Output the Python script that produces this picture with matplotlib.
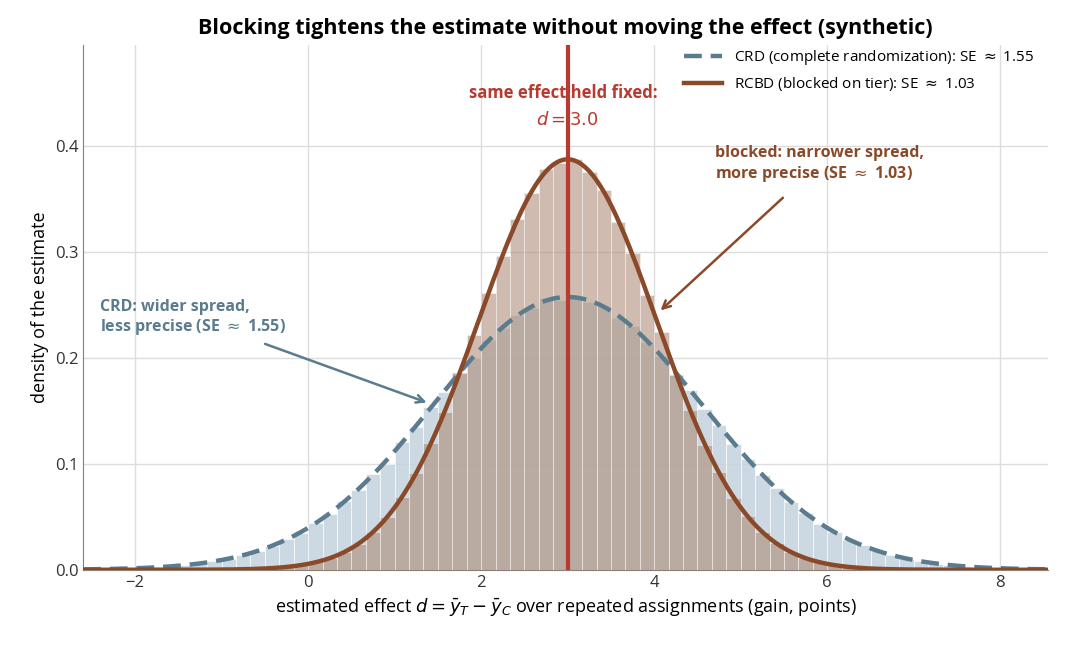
import numpy as np
import matplotlib
matplotlib.use("Agg")
import matplotlib.pyplot as plt

plt.rcParams['font.family'] = ['Open Sans', 'DejaVu Sans']

effect = 3.0
se_crd = 1.55
se_rcbd = 1.03
bin_left = -2.5
bin_width = 1/6
# histogram heights (density), 66 bins from -2.5 to 8.5
crd_hist = [0.0006,0.0008,0.0012,0.0018,0.0022,0.0033,0.0043,0.0061,0.0079,0.0106,0.0136,0.0180,0.0225,0.0290,0.0350,0.0440,0.0528,0.0645,0.0755,0.0900,0.1000,0.1210,0.1350,0.1540,0.1680,0.1870,0.2000,0.2170,0.2280,0.2400,0.2470,0.2560,0.2550,
            0.2580,0.2530,0.2490,0.2380,0.2300,0.2150,0.2020,0.1850,0.1700,0.1520,0.1370,0.1190,0.1050,0.0890,0.0770,0.0635,0.0535,0.0430,0.0360,0.0280,0.0230,0.0175,0.0140,0.0103,0.0081,0.0059,0.0045,0.0031,0.0024,0.0016,0.0012,0.0008,0.0006]
rcbd_hist = [0,0,0,0,0,0,0,0,0,0,0,0,0.0002,
             0.0028,0.0043,0.0072,0.0107,0.0169,0.0244,0.0360,0.0498,0.0690,0.0910,0.1200,0.1490,0.1860,0.2220,0.2610,0.2960,0.3310,0.3560,0.3780,0.3840,
             0.3880,0.3750,0.3580,0.3280,0.2990,0.2590,0.2240,0.1840,0.1510,0.1180,0.0920,0.0680,0.0505,0.0355,0.0248,0.0165,0.0110,0.0069,0.0045,0.0026,
             0.0002,0,0,0,0,0,0,0,0,0,0,0,0]

crd_c = '#5b7b8e'
rcbd_c = '#8a4a2a'
red = '#b83a30'

fig, ax = plt.subplots(figsize=(10.66, 6.46), dpi=100)
fig.subplots_adjust(left=0.078, right=0.983, top=0.93, bottom=0.118)
edges = bin_left + bin_width*np.arange(len(crd_hist))
ax.bar(edges, crd_hist, width=bin_width, align='edge', color='#c5d3dd', alpha=0.85, edgecolor='white', linewidth=0.5, zorder=2)
ax.bar(edges, rcbd_hist, width=bin_width, align='edge', color='#a9846e', alpha=0.55, edgecolor='white', linewidth=0.5, zorder=3)

x = np.linspace(-2.6, 8.6, 600)
pdf = lambda s: np.exp(-(x-effect)**2/(2*s*s))/(s*np.sqrt(2*np.pi))
ax.plot(x, pdf(se_crd), '--', color=crd_c, lw=3.2, dashes=(4, 2), zorder=4,
        label=f'CRD (complete randomization): SE $\\approx$ {se_crd:.2f}')
ax.plot(x, pdf(se_rcbd), '-', color=rcbd_c, lw=3.2, zorder=5,
        label=f'RCBD (blocked on tier): SE $\\approx$ {se_rcbd:.2f}')
ax.axvline(effect, color=red, lw=3, zorder=6)

ax.set_xlim(-2.6, 8.55)
ax.set_ylim(0, 0.495)
ax.set_xticks([-2, 0, 2, 4, 6, 8])
ax.set_yticks([0, 0.1, 0.2, 0.3, 0.4])
ax.grid(True, color='#dddddd', lw=1, zorder=0)
ax.set_axisbelow(True)
for s in ['top', 'right']:
    ax.spines[s].set_visible(False)
for s in ['left', 'bottom']:
    ax.spines[s].set_color('#8a7f73')
ax.tick_params(labelsize=12, length=0, colors='#333333')
ax.set_xlabel(r'estimated effect $d = \bar{y}_T - \bar{y}_C$ over repeated assignments (gain, points)', fontsize=13)
ax.set_ylabel('density of the estimate', fontsize=13)
ax.set_title('Blocking tightens the estimate without moving the effect (synthetic)', fontsize=15.5, fontweight='bold', pad=8)

ax.text(2.95, 0.445, 'same effect held fixed:', color=red, fontsize=12, fontweight='bold', ha='center', zorder=7)
ax.text(3.0, 0.42, r'$d = 3.0$', color=red, fontsize=13, ha='center', zorder=7)
ax.annotate('blocked: narrower spread,\nmore precise (SE $\\approx$ 1.03)', xy=(4.05, 0.243), xytext=(4.7, 0.37),
            color=rcbd_c, fontsize=11.5, fontweight='bold', ha='left',
            arrowprops=dict(arrowstyle='->', color=rcbd_c, lw=1.8, shrinkA=12, mutation_scale=14))
ax.annotate('CRD: wider spread,\nless precise (SE $\\approx$ 1.55)', xy=(1.4, 0.157), xytext=(-2.4, 0.225),
            color=crd_c, fontsize=11.5, fontweight='bold', ha='left',
            arrowprops=dict(arrowstyle='->', color=crd_c, lw=1.8, shrinkA=8, mutation_scale=14))
ax.legend(loc='upper right', bbox_to_anchor=(1.0, 1.02), frameon=False, fontsize=11, handlelength=2.5)
fig.savefig('out.png')
